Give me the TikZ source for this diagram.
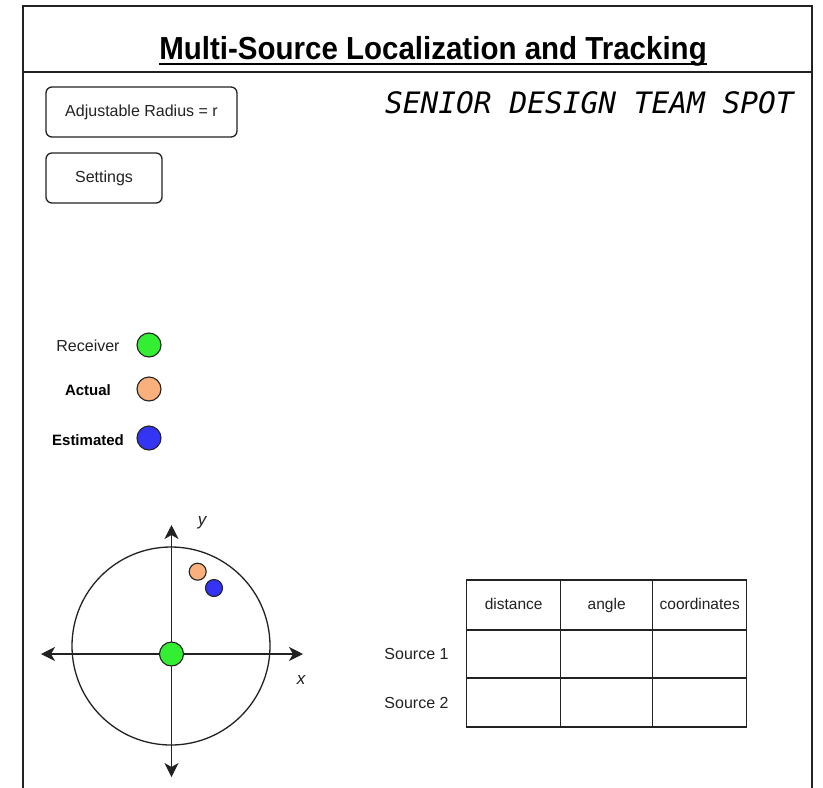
\documentclass[tikz,border=0pt]{standalone}
\usepackage{fontspec}
\setmainfont{Liberation Sans}
\newfontfamily\monoob{DejaVu Sans Mono}
\usetikzlibrary{arrows.meta}
\definecolor{rxgreen}{HTML}{33EE33}
\definecolor{actorange}{HTML}{F9B07C}
\definecolor{estblue}{HTML}{3434F4}
\definecolor{ink}{HTML}{222222}

\begin{document}
\begin{tikzpicture}[x=1pt,y=-1pt,
  frame/.style={draw=ink, line width=1.4pt},
  button/.style={draw=ink, line width=1.3pt, rounded corners=6pt, inner sep=0pt,
    font=\fontsize{16}{18}\selectfont, text=ink},
  label/.style={inner sep=0pt, font=\fontsize{16}{18}\selectfont, text=ink},
  dot/.style={circle, draw=ink, line width=1.1pt, inner sep=0pt},
  cell/.style={draw=ink, line width=1.3pt, inner sep=0pt, text height=11.5pt, text depth=3.5pt,
    font=\fontsize{15.5}{18}\selectfont, text=ink},
  tip/.style={Stealth[length=14pt,width=14pt,inset=4pt]},
  axis/.style={draw=ink, line width=1.3pt, {Stealth[length=14pt,width=14pt,inset=4pt]}-{Stealth[length=14pt,width=14pt,inset=4pt]}}
]
\useasboundingbox (0,0) rectangle (823,788);
\fill[white] (0,0) rectangle (823,788);

% page frame, open at the bottom, and the title bar
\coordinate (fbl) at (23,790);
\coordinate (ftl) at (23,6);
\coordinate (ftr) at (812,6);
\coordinate (fbr) at (812,790);
\draw[frame] (fbl) -- (ftl) -- (ftr) -- (fbr);
\coordinate (sepl) at (23,72);
\coordinate (sepr) at (812,72);
\draw[frame] (sepl) -- (sepr);

\node[inner sep=0pt, anchor=base, text=black, yscale=1.08,
      font=\fontsize{29.5}{34}\selectfont\bfseries] (title) at (433,59)
  {Multi-Source Localization and Tracking};
\draw[line width=2pt, black] ([yshift=-5pt]title.base west) -- ([yshift=-5pt]title.base east);

\node[inner sep=0pt, anchor=base west, text=black,
      font=\fontsize{29.5}{34}\selectfont\monoob\itshape] (team) at (385,113)
  {SENIOR DESIGN TEAM SPOT};

% control buttons
\node[button, minimum width=191pt, minimum height=50pt] (radius) at (141.5,112) {Adjustable Radius = r};
\node[button, minimum width=116pt, minimum height=50pt] (settings) at (104,178) {Settings};

% legend
\node[label] (lrx) at (88,346) {Receiver};
\node[label, text=black, font=\fontsize{15}{18}\selectfont\bfseries] (lact) at (88,390) {Actual};
\node[label, text=black, font=\fontsize{15}{18}\selectfont\bfseries] (lest) at (88,440) {Estimated};
\node[dot, fill=rxgreen, minimum size=24pt] (drx) at (149,345) {};
\node[dot, fill=actorange, minimum size=24pt] (dact) at (149,389) {};
\node[dot, fill=estblue, minimum size=24pt] (dest) at (149,438) {};

% radius circle with axes
\node[circle, draw=ink, line width=1.3pt, minimum size=198pt, inner sep=0pt] (range) at (171,646) {};
\coordinate (xl) at (41,654);
\coordinate (xr) at (303,654);
\coordinate (yt) at (171.5,525);
\coordinate (yb) at (171.5,777);
\draw[axis] (xl) -- (xr);
\draw[axis] (yb) -- (yt);
\node[inner sep=0pt, text=ink, font=\fontsize{17}{20}\selectfont\itshape] (ylab) at (202,523) {y};
\node[inner sep=0pt, text=ink, font=\fontsize{17}{20}\selectfont\itshape] (xlab) at (301,680) {x};
\node[dot, fill=rxgreen, minimum size=24pt] (prx) at (171.5,654) {};
\node[dot, fill=actorange, minimum size=17pt] (pact) at (197.7,571.7) {};
\node[dot, fill=estblue, minimum size=17pt] (pest) at (214,588) {};

% results table: header row 580-630, rows 630-678 and 678-727
\node[cell, minimum width=94pt, minimum height=50pt] (h1) at (513.7,605) {distance};
\node[cell, minimum width=92pt, minimum height=50pt] (h2) at (606.7,605) {angle};
\node[cell, minimum width=94pt, minimum height=50pt] (h3) at (699.7,605) {coordinates};
\node[cell, minimum width=94pt, minimum height=48pt] (a1) at (513.7,654) {};
\node[cell, minimum width=92pt, minimum height=48pt] (a2) at (606.7,654) {};
\node[cell, minimum width=94pt, minimum height=48pt] (a3) at (699.7,654) {};
\node[cell, minimum width=94pt, minimum height=49pt] (b1) at (513.7,702.5) {};
\node[cell, minimum width=92pt, minimum height=49pt] (b2) at (606.7,702.5) {};
\node[cell, minimum width=94pt, minimum height=49pt] (b3) at (699.7,702.5) {};
\node[label] (s1) at (416.5,654) {Source 1};
\node[label] (s2) at (416.5,703) {Source 2};
\end{tikzpicture}
\end{document}
